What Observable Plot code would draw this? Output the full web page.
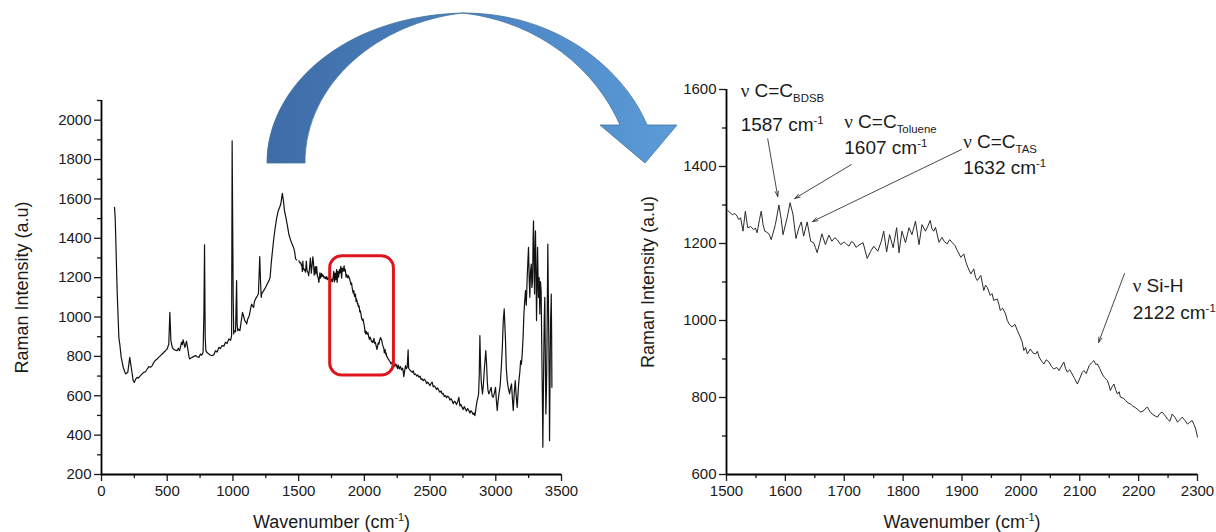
<!DOCTYPE html>
<html><head><meta charset="utf-8">
<script src="https://cdn.jsdelivr.net/npm/d3@7"></script>
<script src="https://cdn.jsdelivr.net/npm/@observablehq/plot@0.6"></script>
<style>
html,body{margin:0;padding:0;background:#fff;}
#wrap{position:relative;width:1216px;height:532px;overflow:hidden;font-family:"Liberation Sans",Arial,sans-serif;}
#left,#right,#overlay{position:absolute;top:0;}
#left{left:0}
#right{left:600px}
#overlay{left:0;pointer-events:none}
</style></head><body>
<div id="wrap"><div id="left"></div><div id="right"></div><svg id="overlay" width="1216" height="532"></svg></div>
<script>
// ---------- data: Raman spectrum (wavenumber cm-1, intensity a.u.) ----------
const lowWn  = [99,104,109,119,132,139,150,165,183,200,215,226,241,250,260,271,280,297,310,322,335,348,360,373,385,398,411,424,436,449,462,474,487,500,506,512,520,528,537,546,560,576,585,594,602,609,615,621,628,634,640,647,653,659,665,670,680,690,702,715,728,741,753,763,773,779,784,789,794,805,817,830,842,855,867,880,893,905,918,931,943,956,969,982,990,994,1002,1006,1010,1020,1028,1032,1037,1043,1053,1063,1073,1083,1090,1098,1105,1113,1124,1134,1142,1151,1157,1164,1172,1179,1187,1194,1204,1210,1215,1220,1234,1248,1261,1274,1283,1291,1301,1311,1322,1332,1345,1357,1364,1370,1376,1382,1387,1392,1403,1413,1425,1438,1450,1463,1470,1477,1484,1492];
const lowInt = [1557,1506,1388,1134,897,863,795,745,711,719,795,745,677,668,684,694,690,702,712,719,722,736,748,745,752,770,781,787,796,804,812,821,829,838,850,863,1024,880,850,838,832,829,842,829,850,872,860,884,866,846,858,877,852,829,800,787,792,795,800,804,798,795,812,806,821,1010,1367,900,829,818,812,806,804,808,829,822,846,840,855,852,872,866,889,882,906,1895,1100,914,931,925,1185,960,931,938,931,978,1024,1000,982,975,965,990,1007,1040,1066,1055,1049,1080,1092,1100,1108,1120,1307,1180,1100,1120,1134,1150,1168,1185,1201,1270,1337,1400,1455,1500,1540,1560,1574,1600,1628,1600,1574,1540,1506,1470,1422,1392,1371,1350,1330,1295,1290];

const zoomWn  = [1502,1506,1510,1514,1518,1521,1524,1528,1532,1536,1541,1546,1549,1552,1556,1559,1562,1565,1570,1573,1576,1583,1589,1593,1596,1603,1608,1613,1618,1623,1627,1631,1637,1643,1648,1651,1654,1658,1662,1668,1674,1679,1684,1688,1694,1700,1704,1708,1712,1716,1720,1725,1732,1739,1745,1750,1757,1763,1767,1772,1777,1783,1789,1793,1798,1804,1810,1815,1821,1827,1832,1838,1842,1846,1849,1852,1855,1861,1866,1870,1875,1879,1883,1888,1892,1898,1903,1907,1910,1915,1920,1923,1926,1932,1937,1940,1943,1948,1951,1954,1960,1963,1965,1969,1974,1977,1980,1985,1990,1994,1999,2002,2005,2008,2011,2016,2021,2025,2028,2031,2035,2039,2043,2048,2052,2056,2061,2065,2069,2073,2076,2079,2083,2087,2091,2096,2101,2104,2107,2111,2116,2120,2124,2127,2130,2134,2138,2142,2147,2150,2152,2155,2158,2161,2164,2167,2169,2174,2178,2182,2186,2190,2194,2198,2203,2209,2212,2215,2219,2223,2228,2232,2236,2240,2244,2249,2253,2257,2262,2266,2270,2274,2279,2283,2287,2291,2294,2297,2300];
const zoomInt = [1286,1280,1275,1278,1271,1262,1267,1232,1284,1241,1244,1236,1240,1228,1262,1284,1250,1232,1228,1222,1210,1249,1300,1262,1223,1267,1306,1275,1213,1241,1256,1219,1256,1206,1202,1190,1176,1200,1225,1197,1222,1206,1215,1210,1197,1204,1198,1193,1205,1202,1190,1196,1202,1161,1180,1193,1180,1206,1232,1178,1223,1189,1241,1176,1232,1202,1241,1223,1258,1197,1249,1232,1245,1260,1238,1232,1242,1203,1216,1205,1199,1210,1203,1195,1182,1164,1173,1150,1138,1121,1134,1112,1104,1117,1078,1092,1086,1065,1070,1052,1056,1040,1026,1032,1017,1000,991,983,990,974,957,945,922,930,913,926,915,913,920,905,895,887,898,892,880,874,878,870,882,892,875,866,872,861,850,835,853,865,870,862,883,890,896,886,887,875,861,852,844,830,818,828,835,820,809,815,801,798,792,786,783,778,774,770,762,766,772,775,764,757,752,749,758,762,755,744,738,757,748,736,742,749,740,731,736,740,730,718,697];

const highWn  = [2313,2320,2326,2333,2337,2341,2350,2357,2364,2372,2380,2389,2398,2406,2415,2424,2432,2440,2448,2456,2465,2474,2482,2491,2500,2508,2516,2524,2532,2541,2549,2558,2567,2575,2584,2592,2600,2608,2617,2625,2634,2643,2651,2660,2668,2676,2685,2693,2701,2710,2719,2727,2735,2744,2752,2760,2769,2777,2786,2795,2803,2811,2820,2828,2834,2841,2850,2858,2864,2869,2874,2879,2884,2889,2894,2899,2906,2914,2924,2930,2935,2940,2947,2956,2965,2972,2980,2990,2998,3004,3011,3017,3024,3033,3042,3050,3057,3064,3069,3074,3080,3087,3095,3105,3112,3120,3126,3133,3140,3148,3155,3163,3170,3176,3183,3189,3195,3201,3208,3214,3220,3226,3232,3239,3244,3249,3254,3259,3264,3270,3275,3280,3284,3287,3291,3295,3298,3302,3306,3310,3314,3318,3321,3325,3330,3335,3340,3345,3349,3353,3356,3358,3362,3366,3369,3373,3377,3381,3385,3388,3392,3396,3400,3404,3407,3409,3413,3417,3420,3422,3425,3427];
const highInt = [753,738,745,833,740,736,728,724,719,726,708,711,700,706,694,700,682,686,676,684,677,662,670,660,652,664,669,645,650,643,632,640,626,618,624,609,612,596,601,590,598,592,578,585,575,560,572,567,555,570,592,548,556,541,530,545,533,522,535,525,512,524,516,505,512,499,540,575,590,609,700,906,760,677,640,609,660,745,829,760,677,630,609,625,643,600,592,615,643,580,525,570,609,650,745,850,982,1041,960,880,740,677,640,609,640,660,590,525,610,677,600,541,620,677,720,778,760,812,900,1015,1080,1134,1060,1202,1280,1354,1200,1100,1230,1269,1150,1185,1400,1489,1300,1117,1300,1438,1250,982,1150,1354,1220,1100,1200,1015,1180,1134,900,677,500,339,600,846,1000,1100,800,508,620,745,1050,1371,1100,846,600,372,700,982,1050,1117,900,643];

// tick values
const leftXTicks  = [0,500,1000,1500,2000,2500,3000,3500];
const leftXMinor  = [250,750,1250,1750,2250,2750,3250];
const leftYTicks  = [200,400,600,800,1000,1200,1400,1600,1800,2000];
const leftYMinor  = [300,500,700,900,1100,1300,1500,1700,1900,2100];
const rightXTicks = [1500,1600,1700,1800,1900,2000,2100,2200,2300];
const rightXMinor = [1550,1650,1750,1850,1950,2050,2150,2250];
const rightYTicks = [600,800,1000,1200,1400,1600];
const rightYMinor = [700,900,1100,1300,1500];

// highlighted region on the full spectrum
const boxWn  = [1740, 2225];
const boxInt = [703, 1309];

// peak annotations (right panel)
const annLine1 = ["ν C=C_{BDSB}", "ν C=C_{Toluene}", "ν C=C_{TAS}", "ν Si-H"];
const annLine2 = ["1587 cm^{-1}", "1607 cm^{-1}", "1632 cm^{-1}", "2122 cm^{-1}"];
const annTextWn = [1524, 1700, 1902, 2190];
const annY1 = [1581, 1501, 1447, 1073];
const annY2 = [1493, 1432, 1380, 1005];
const arrowFromWn = [1570, 1712, 1899, 2176];
const arrowFromI  = [1472, 1405, 1444, 1122];
const arrowToWn   = [1587, 1616, 1646, 2132];
const arrowToI    = [1322, 1317, 1257, 943];

const xTitle = "Wavenumber (cm^{-1})";
const yTitle = "Raman Intensity (a.u)";

// ---------- build tables ----------
const rowsOf = (w, v) => w.map((x, k) => ({wn: x, i: v[k]}));
const zoomRows = rowsOf(zoomWn, zoomInt);
const fullRows = [...rowsOf(lowWn, lowInt), ...zoomRows, ...rowsOf(highWn, highInt)];
const boxRows = [{x1: boxWn[0], x2: boxWn[1], y1: boxInt[0], y2: boxInt[1]}];
const annRows = annLine1.flatMap((t, k) => [
  {x: annTextWn[k], y: annY1[k], t},
  {x: annTextWn[k], y: annY2[k], t: annLine2[k]}
]);
const arrowRows = arrowFromWn.map((x, k) => ({x1: x, y1: arrowFromI[k], x2: arrowToWn[k], y2: arrowToI[k]}));

const FONT = "Liberation Sans, Arial, Helvetica, sans-serif";
const baseStyle = {fontFamily: FONT, fontSize: "15px", color: "#1a1a1a", background: "transparent", overflow: "visible"};
const fmt = d => String(d);

function axesMarks(xT, xM, yT, yM, x0, y0) {
  return [
    Plot.axisX({ticks: xT, tickSize: 7, tickPadding: 4, tickFormat: fmt, label: null, fontSize: 15, strokeWidth: 1.3}),
    Plot.axisX({ticks: xM, tickSize: 4, tickFormat: () => "", label: null, strokeWidth: 1.3}),
    Plot.axisY({ticks: yT, tickSize: 7, tickPadding: 3, tickFormat: fmt, label: null, fontSize: 15, strokeWidth: 1.3}),
    Plot.axisY({ticks: yM, tickSize: 4, tickFormat: () => "", label: null, strokeWidth: 1.3}),
    Plot.ruleX([x0], {stroke: "#000", strokeWidth: 1.8}),
    Plot.ruleY([y0], {stroke: "#000", strokeWidth: 1.8})
  ];
}
function titleMarks(dxY) {
  return [
    Plot.text([xTitle], {text: d => d, frameAnchor: "bottom", textAnchor: "middle", dy: 48, fontSize: 18, lineAnchor: "middle", fill: "#1a1a1a"}),
    Plot.text([yTitle], {text: d => d, frameAnchor: "left", textAnchor: "middle", rotate: -90, dx: dxY, fontSize: 18, lineAnchor: "middle", fill: "#1a1a1a"})
  ];
}

const leftPlot = Plot.plot({
  width: 600, height: 532,
  marginLeft: 101, marginRight: 39, marginTop: 100, marginBottom: 58,
  style: baseStyle,
  x: {domain: [0, 3500]},
  y: {domain: [200, 2100]},
  marks: [
    ...axesMarks(leftXTicks, leftXMinor, leftYTicks, leftYMinor, 0, 200),
    Plot.line(fullRows, {x: "wn", y: "i", stroke: "#111", strokeWidth: 1.2}),
    Plot.rect(boxRows, {x1: "x1", x2: "x2", y1: "y1", y2: "y2", rx: 12, fill: "none", stroke: "#e0141c", strokeWidth: 3}),
    ...titleMarks(-79)
  ]
});

const rightPlot = Plot.plot({
  width: 616, height: 532,
  marginLeft: 126, marginRight: 19, marginTop: 89, marginBottom: 58,
  style: baseStyle,
  x: {domain: [1500, 2300]},
  y: {domain: [600, 1600]},
  marks: [
    ...axesMarks(rightXTicks, rightXMinor, rightYTicks, rightYMinor, 1500, 600),
    Plot.line(zoomRows, {x: "wn", y: "i", stroke: "#2a2a2a", strokeWidth: 1}),
    Plot.arrow(arrowRows, {x1: "x1", y1: "y1", x2: "x2", y2: "y2", stroke: "#333", strokeWidth: 0.9, headLength: 9, headAngle: 35}),
    Plot.text(annRows, {x: "x", y: "y", text: "t", textAnchor: "start", lineAnchor: "bottom", fontSize: 19, fill: "#1a1a1a"}),
    ...titleMarks(-78)
  ]
});

// sub/superscripts and Greek nu as tspans (text stays real text)
function richify(svg) {
  d3.select(svg).selectAll("text").each(function() {
    const s = this.textContent;
    if (!/[_^]\{|ν/.test(s)) return;
    const el = d3.select(this);
    el.text(null);
    const parts = s.split(/([_^]\{[^}]*\}|ν)/);
    let cur = 0;
    for (const p of parts) {
      if (!p) continue;
      let target = 0, txt = p, small = false, serif = false;
      if (p.startsWith("_{")) { target = 5; txt = p.slice(2, -1); small = true; }
      else if (p.startsWith("^{")) { target = -7; txt = p.slice(2, -1); small = true; }
      else if (p === "ν") { serif = true; }
      const t = el.append("tspan").text(txt);
      if (target - cur !== 0) t.attr("dy", target - cur);
      if (small) t.attr("font-size", "0.6em");
      if (serif) t.attr("font-family", "Liberation Serif, Times New Roman, serif");
      cur = target;
    }
  });
}
richify(leftPlot); richify(rightPlot);
document.getElementById("left").appendChild(leftPlot);
document.getElementById("right").appendChild(rightPlot);

// decorative curved arrow linking the panels
const ov = d3.select("#overlay");
const grad = ov.append("defs").append("linearGradient").attr("id", "ag").attr("x1", "0%").attr("x2", "100%").attr("y1", "0%").attr("y2", "0%");
grad.append("stop").attr("offset", "0%").attr("stop-color", "#3e6ca6");
grad.append("stop").attr("offset", "55%").attr("stop-color", "#4d86c4");
grad.append("stop").attr("offset", "100%").attr("stop-color", "#5b9bd8");
ov.append("path")
  .attr("d", "M267,163 C267,88 342,16 463,13 C562,13 626,74 647,125 L677,125 L645,163 L600,125 L620,125 C596,70 540,22 463,13 C380,22 305,82 305,163 Z")
  .attr("fill", "url(#ag)").attr("stroke", "#41719c").attr("stroke-width", 0.8);
</script>
</body></html>
